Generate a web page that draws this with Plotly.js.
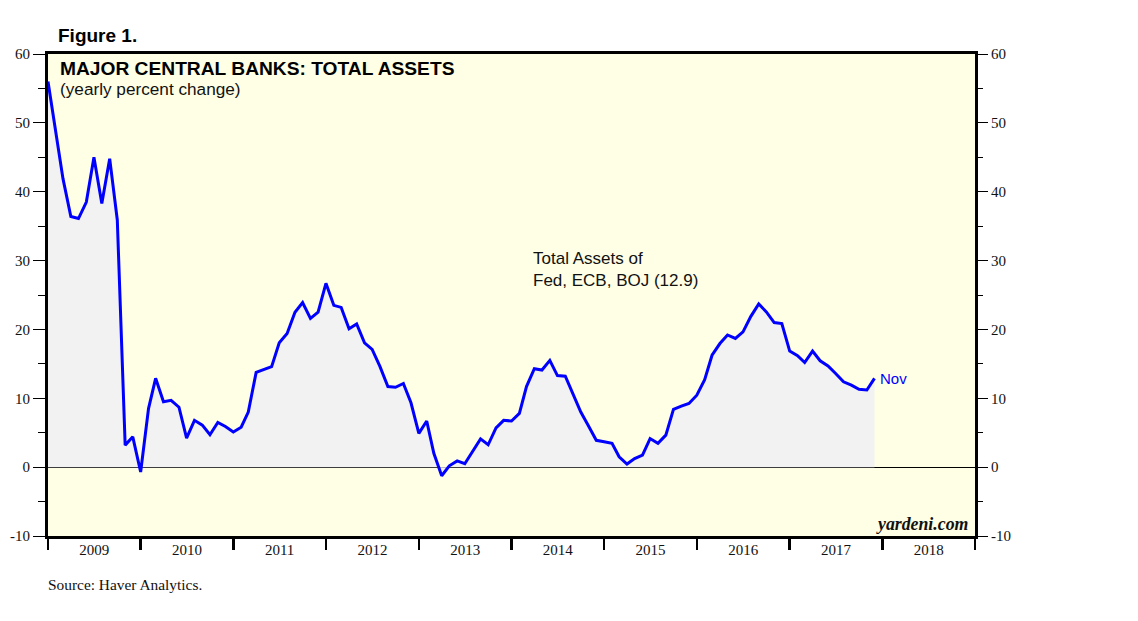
<!DOCTYPE html>
<html>
<head>
<meta charset="utf-8">
<script src="https://cdn.plot.ly/plotly-3.0.1.min.js"></script>
<style>
  html, body { margin: 0; padding: 0; background: #ffffff; }
  #chart { width: 1138px; height: 621px; }
</style>
</head>
<body>
<div id="chart"></div>
<script>
// Month-end observations, Dec 2008 .. Nov 2017 (plotted at the start of the following month)
const firstObsYear = 2009;
const firstObsMonth = 1;
const obsCount = 108;

// Total assets of Fed, ECB, BOJ: yearly percent change
const totalAssetsYoY = [
  56.0, 48.4, 41.9, 36.4, 36.1, 38.5, 45.0, 38.3, 44.8, 35.9, 3.2, 4.4,
  -0.7, 8.5, 12.9, 9.5, 9.7, 8.7, 4.2, 6.8, 6.1, 4.7, 6.5, 5.9,
  5.1, 5.8, 8.0, 13.75, 14.2, 14.6, 18.05, 19.4, 22.5, 23.9, 21.6, 22.5,
  26.7, 23.5, 23.2, 20.1, 20.8, 18.05, 17.1, 14.6, 11.7, 11.6, 12.15, 9.35,
  4.9, 6.7, 2.0, -1.25, 0.2, 0.9, 0.5, 2.3, 4.1, 3.25, 5.7, 6.8,
  6.7, 7.8, 11.7, 14.3, 14.1, 15.5, 13.3, 13.2, 10.45, 8.0, 5.95, 3.9,
  3.7, 3.45, 1.5, 0.45, 1.25, 1.75, 4.15, 3.45, 4.65, 8.4, 8.85, 9.25,
  10.45, 12.7, 16.25, 17.95, 19.2, 18.7, 19.65, 21.9, 23.7, 22.55, 21.0, 20.85,
  16.85, 16.2, 15.2, 16.85, 15.45, 14.7, 13.6, 12.4, 11.9, 11.3, 11.2, 12.9
];

const yTickVals = [-10, 0, 10, 20, 30, 40, 50, 60];
const yTickText = ['-10', '0', '10', '20', '30', '40', '50', '60'];
const yearLabels = ['2009','2010','2011','2012','2013','2014','2015','2016','2017','2018'];

const obsDates = [];
for (let i = 0; i < obsCount; i++) {
  const m0 = (firstObsMonth - 1) + i;
  const yy = firstObsYear + Math.floor(m0 / 12);
  const mm = (m0 % 12) + 1;
  obsDates.push(yy + '-' + String(mm).padStart(2, '0') + '-01');
}

const serif = 'Liberation Serif, Times New Roman, serif';
const sans = 'Liberation Sans, Arial, Helvetica, sans-serif';

const traces = [
  {
    x: obsDates, y: totalAssetsYoY, type: 'scatter', mode: 'lines',
    line: { color: '#0000ff', width: 3 },
    fill: 'tozeroy', fillcolor: '#f2f2f2',
    hoverinfo: 'x+y', showlegend: false
  },
  {
    x: obsDates, y: totalAssetsYoY, type: 'scatter', mode: 'lines',
    yaxis: 'y2', line: { color: 'rgba(0,0,0,0)', width: 0 },
    hoverinfo: 'skip', showlegend: false
  }
];

const yCommon = {
  range: [-10, 60], tickmode: 'array', tickvals: yTickVals, ticktext: yTickText,
  ticks: 'outside', ticklen: 12, tickwidth: 1, tickcolor: '#000',
  minor: { tickmode: 'linear', tick0: -5, dtick: 10, ticks: 'outside', ticklen: 7, tickwidth: 1, tickcolor: '#000', showgrid: false },
  showgrid: false, zeroline: false,
  tickfont: { family: serif, size: 15, color: '#111' },
  fixedrange: true
};

const layout = {
  width: 1138, height: 621,
  margin: { l: 48, r: 163, t: 54, b: 85, pad: 0 },
  paper_bgcolor: '#ffffff', plot_bgcolor: '#ffffe5',
  showlegend: false,
  xaxis: {
    type: 'date', range: ['2009-01-01', '2019-01-01'],
    tickmode: 'linear', tick0: '2009-01-01', dtick: 'M12',
    tickformat: '%Y', ticklabelmode: 'period',
    ticks: 'outside', ticklen: 11, tickwidth: 2.5, tickcolor: '#000',
    ticklabelstandoff: -13,
    showline: true, linecolor: '#000', linewidth: 3, mirror: true,
    showgrid: false, zeroline: false,
    tickfont: { family: serif, size: 15, color: '#111' },
    fixedrange: true
  },
  yaxis: Object.assign({}, yCommon, {
    side: 'left', showline: true, linecolor: '#000', linewidth: 3, mirror: true,
    zeroline: true, zerolinecolor: '#000', zerolinewidth: 1
  }),
  yaxis2: Object.assign({}, yCommon, {
    side: 'right', overlaying: 'y', showline: false
  }),
  annotations: [
    { xref: 'paper', yref: 'paper', x: 0.0086, y: 1.0394, xanchor: 'left', yanchor: 'middle',
      text: '<b>Figure 1.</b>', showarrow: false, font: { family: sans, size: 19, color: '#000' } },
    { xref: 'paper', yref: 'paper', x: 0.0107, y: 0.9689, xanchor: 'left', yanchor: 'middle',
      text: '<b>MAJOR CENTRAL BANKS: TOTAL ASSETS</b>', showarrow: false, font: { family: sans, size: 19.2, color: '#000' } },
    { xref: 'paper', yref: 'paper', x: 0.0107, y: 0.9274, xanchor: 'left', yanchor: 'middle',
      text: '(yearly percent change)', showarrow: false, font: { family: sans, size: 17.2, color: '#111' } },
    { xref: 'paper', yref: 'paper', x: 0.5210, y: 0.5529, xanchor: 'left', yanchor: 'middle', align: 'left',
      text: 'Total Assets of<br>Fed, ECB, BOJ (12.9)', showarrow: false, font: { family: sans, size: 17, color: '#111' } },
    { xref: 'paper', yref: 'paper', x: 0.8953, y: 0.3278, xanchor: 'left', yanchor: 'middle',
      text: 'Nov', showarrow: false, font: { family: sans, size: 15, color: '#0000ff' } },
    { xref: 'paper', yref: 'paper', x: 0.9945, y: 0.0249, xanchor: 'right', yanchor: 'middle',
      text: '<b><i>yardeni.com</i></b>', showarrow: false, font: { family: serif, size: 17.8, color: '#111' } },
    { xref: 'paper', yref: 'paper', x: -0.0022, y: -0.0996, xanchor: 'left', yanchor: 'middle',
      text: 'Source: Haver Analytics.', showarrow: false, font: { family: serif, size: 15.4, color: '#111' } }
  ]
};

Plotly.newPlot('chart', traces, layout, { displayModeBar: false, staticPlot: true });
</script>
</body>
</html>
